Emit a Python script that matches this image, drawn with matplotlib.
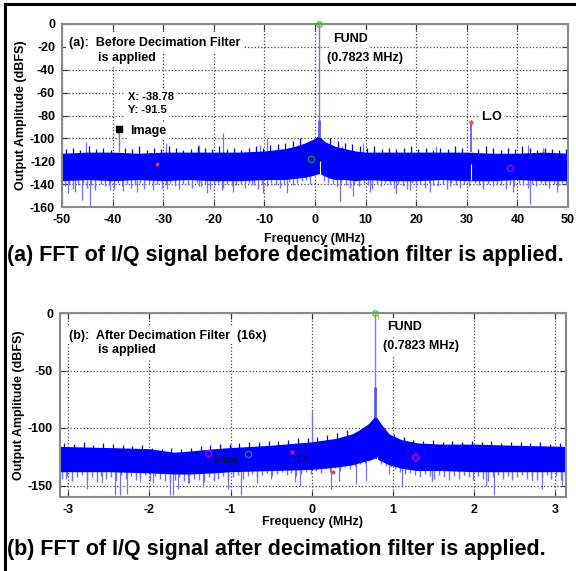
import numpy as np
import matplotlib
matplotlib.use("Agg")
import matplotlib.pyplot as plt
from matplotlib.lines import Line2D

plt.rcParams['font.family'] = ['Liberation Sans', 'DejaVu Sans']
plt.rcParams['axes.unicode_minus'] = False

# ---------------- Panel (a) data ----------------
fa = [-50, -45, -40, -35, -30, -25, -20, -15, -10, -6, -4, -2, -1, 0, 0.5, 0.78, 1, 1.5, 2, 3, 4, 6, 8, 10, 15, 20, 25, 30, 35, 40, 45, 50]
upper_a = [-113, -112, -112, -113, -112, -112, -112, -112, -111, -109, -107, -104, -102, -100, -98, -97, -99, -101, -103, -105, -107, -109, -111, -112, -112, -112, -112, -112, -113, -113, -112, -113]
lower_a = [-137, -136, -137, -136, -137, -136, -137, -137, -136, -136, -135, -134, -133, -132, -131, -131, -131, -132, -133, -135, -136, -136, -137, -136, -137, -137, -136, -137, -137, -136, -137, -137]

# top fuzz (dark) of the noise band
tf_a = [-49.3, -47.8, -46.4, -44.7, -43.2, -41.9, -40.4, -37.6, -36.1, -34.8,
        -33.3, -31.9, -30.5, -28.9, -27.5, -26.1, -24.6, -23.2, -21.8, -20.3,
        -18.9, -17.4, -16.0, -14.6, -13.1, -11.7, -10.2, -8.8, -7.3, -5.9,
        -4.4, -3.0, 3.0, 4.5, 5.9, 7.4, 8.8, 10.3, 11.7, 13.2,
        14.6, 16.1, 17.5, 19.0, 20.4, 21.9, 23.3, 24.8, 26.2, 27.7,
        29.1, 32.3, 33.8, 35.2, 36.7, 38.1, 39.6, 41.0, 42.5, 43.9,
        45.4, 46.8, 48.3, 49.7]
tt_a = [-109, -108, -110, -107, -109, -108, -110, -108, -109, -107,
        -110, -108, -109, -107, -108, -110, -109, -107, -108, -109,
        -107, -109, -108, -110, -108, -107, -108, -106, -105, -104,
        -102, -100, -100, -102, -104, -105, -107, -108, -107, -109,
        -108, -110, -108, -107, -109, -108, -110, -108, -109, -107,
        -108, -109, -107, -108, -110, -108, -109, -107, -108, -110,
        -108, -109, -110, -109]

# bottom fuzz (light) of the noise band
bf_a = [-49.5, -48.6, -47.9, -46.8, -45.9, -45.1, -44.2, -43.4, -42.3, -41.6,
        -40.7, -39.8, -38.9, -38.1, -37.2, -36.4, -35.5, -34.6, -33.8, -32.9,
        -32.0, -31.2, -30.3, -29.5, -28.6, -27.7, -26.9, -26.0, -25.1, -24.3,
        -23.4, -22.5, -21.7, -20.8, -19.9, -19.1, -18.2, -17.3, -16.5, -15.6,
        -14.7, -13.9, -13.0, -12.1, -11.3, -10.4, -9.5, -8.7, -7.8, -6.9,
        -6.1, -5.2, -4.3, -3.5, -2.6, -1.7, -0.9, 1.8, 2.6, 3.5,
        4.4, 5.2, 6.1, 7.0, 7.8, 8.7, 9.6, 10.4, 11.3, 12.2,
        13.0, 13.9, 14.8, 15.6, 16.5, 17.4, 18.2, 19.1, 20.0, 20.8,
        21.7, 22.6, 23.4, 24.3, 25.2, 26.0, 26.9, 27.8, 28.6, 29.5,
        30.4, 31.6, 32.5, 33.3, 34.2, 35.1, 35.9, 36.8, 37.7, 38.5,
        39.4, 40.3, 41.1, 42.0, 42.9, 43.7, 44.6, 45.5, 46.3, 47.2,
        48.1, 48.9, 49.7]
bb_a = [-142, -140, -144, -141, -139, -143, -141, -145, -140, -142,
        -141, -144, -139, -142, -140, -143, -141, -139, -144, -140,
        -142, -140, -143, -141, -139, -142, -144, -140, -141, -143,
        -139, -142, -140, -144, -141, -139, -143, -140, -142, -141,
        -140, -143, -139, -141, -144, -140, -142, -139, -141, -143,
        -140, -138, -141, -139, -137, -136, -134, -137, -139, -140,
        -142, -139, -141, -143, -140, -142, -139, -141, -144, -140,
        -142, -139, -141, -143, -140, -142, -144, -139, -141, -140,
        -143, -139, -141, -142, -140, -144, -139, -141, -143, -140,
        -142, -139, -141, -143, -140, -142, -139, -141, -144, -140,
        -142, -139, -141, -143, -140, -142, -139, -141, -143, -140,
        -142, -139, -141]

# occasional taller spikes
up_fa = [-45.3, -29.4, -23.0, -18.2, -10.9, -9.4, 5.3, 9.5, 16.0, 24.0, 42.0, 45.0]
up_ta = [-103, -104, -106, -95, -106, -100, -107, -104, -108, -107, -106, -108]
dn_fa = [-48.8, -47.4, -46.0, -44.5, -40.5, -38.0, -35.2, -32.0, -29.3, -23.0, -21.4, -18.4, -16.2, -12.5,
         -10.3, -5.5, -1.0, 5.0, 7.5, 10.9, 16.1, 18.8, 22.7, 26.7, 33.2, 35.9, 39.1, 42.5, 47.8]
dn_ba = [-148, -147, -154, -160, -145, -146, -147, -145, -144, -142, -148, -145, -147, -141,
         -148, -148, -140, -155, -150, -147, -148, -145, -147, -142, -144, -141, -147, -157, -147]

fund_f = 0.7823
image_a = (-38.78, -91.5)
lo_a = (30.8, -86)

# ---------------- Panel (b) data ----------------
fb = [-3.1, -2.5, -2.0, -1.7, -1.5, -1.2, -1.0, -0.5, 0, 0.3, 0.5, 0.6, 0.7, 0.75, 0.78, 0.81, 0.86, 0.95, 1.1, 1.3, 1.6, 2.0, 2.5, 3.13]
upper_b = [-116, -117, -118, -121, -120, -118, -117, -115, -112, -109, -105, -101, -96, -92, -89, -92, -97, -105, -110, -113, -114, -114, -115, -116]
lower_b = [-138, -138, -139, -140, -140, -139, -138, -137, -136, -134, -132, -130, -128, -127, -126, -127, -129, -132, -135, -137, -137, -138, -138, -138]

tf_b = [-3.05, -2.93, -2.81, -2.69, -2.57, -2.45, -2.33, -2.21, -2.09, -1.97,
        -1.85, -1.73, -1.61, -1.49, -1.37, -1.25, -1.13, -1.01, -0.89, -0.77,
        -0.65, -0.53, -0.41, -0.29, -0.17, -0.05, 0.07, 0.19, 0.31, 0.43,
        1.01, 1.13, 1.25, 1.37, 1.49, 1.61, 1.73, 1.85, 1.97, 2.09,
        2.21, 2.33, 2.45, 2.57, 2.69, 2.81, 2.93, 3.05]
tt_b = [-113, -114, -112, -115, -113, -114, -115, -116, -115, -117,
        -118, -117, -118, -117, -116, -115, -114, -114, -113, -112,
        -112, -111, -111, -110, -109, -109, -108, -106, -104, -102,
        -105, -108, -110, -111, -110, -112, -111, -112, -111, -112,
        -111, -113, -112, -112, -113, -112, -114, -113]

bf_b = [-3.07, -3.01, -2.95, -2.89, -2.83, -2.77, -2.71, -2.65, -2.59, -2.53,
        -2.47, -2.41, -2.35, -2.29, -2.23, -2.17, -2.11, -2.05, -1.99, -1.93,
        -1.87, -1.81, -1.75, -1.69, -1.63, -1.57, -1.51, -1.45, -1.39, -1.33,
        -1.27, -1.21, -1.15, -1.09, -1.03, -0.97, -0.91, -0.85, -0.79, -0.73,
        -0.67, -0.61, -0.55, -0.49, -0.43, -0.37, -0.31, -0.25, -0.19, -0.13,
        -0.07, -0.01, 0.05, 0.11, 0.17, 0.23, 0.29, 0.35, 0.41, 0.47,
        0.53, 0.59, 0.65, 0.71, 0.85, 0.91, 0.97, 1.03, 1.09, 1.15,
        1.21, 1.27, 1.33, 1.39, 1.45, 1.51, 1.57, 1.63, 1.69, 1.75,
        1.81, 1.87, 1.93, 1.99, 2.05, 2.11, 2.17, 2.23, 2.29, 2.35,
        2.41, 2.47, 2.53, 2.59, 2.65, 2.71, 2.77, 2.83, 2.89, 2.95,
        3.01, 3.07, 3.12]
bb_b = [-144, -142, -146, -143, -141, -145, -143, -147, -142, -144,
        -143, -146, -141, -144, -142, -145, -143, -141, -146, -142,
        -144, -146, -147, -145, -143, -146, -148, -144, -145, -147,
        -143, -146, -144, -142, -145, -143, -141, -144, -142, -140,
        -143, -141, -139, -142, -140, -138, -141, -139, -142, -140,
        -138, -140, -137, -139, -136, -138, -135, -137, -134, -136,
        -133, -131, -130, -129, -131, -133, -134, -136, -138, -140,
        -139, -141, -143, -140, -142, -144, -141, -143, -145, -142,
        -144, -141, -143, -145, -142, -144, -146, -143, -141, -144,
        -142, -145, -143, -141, -144, -142, -145, -143, -141, -144,
        -142, -145, -143]

up_fb = [0.0]
up_tb = [-85]
dn_fb = [-3.03, -2.77, -2.58, -2.42, -2.36, -2.28, -2.11, -1.95, -1.75, -1.71, -1.65, -1.52, -1.34, -1.03, -0.87,
         -0.68, -0.5, -0.21, -0.15, 0.24, 0.34, 0.54, 0.67, 0.95, 1.11, 1.48, 1.87, 2.14, 2.24, 2.46, 2.71, 2.83, 3.08]
dn_bb = [-144, -153, -148, -158, -158, -157, -147, -148, -158, -158, -153, -148, -151, -153, -158,
         -148, -144, -147, -150, -153, -146, -149, -146, -140, -151, -146, -141, -150, -158, -144, -146, -153, -150]

xt_a = [-50, -40, -30, -20, -10, 0, 10, 20, 30, 40, 50]
yt_a = [0, -20, -40, -60, -80, -100, -120, -140, -160]
xt_b = [-3, -2, -1, 0, 1, 2, 3]
yt_b = [0, -50, -100, -150]

DARK = '#0000ff'
LIGHT = '#7070ff'
W, H = 576, 571

fig = plt.figure(figsize=(5.76, 5.71), dpi=100)
fig.patch.set_facecolor('white')

def ax_rect(l, t, r, b):
    return [l / W, 1 - b / H, (r - l) / W, (b - t) / H]

axA = fig.add_axes(ax_rect(62, 24, 568, 207))
axB = fig.add_axes(ax_rect(60, 313, 566, 497))

def style(ax, xt, yt, xlim, ylim):
    ax.set_xlim(*xlim)
    ax.set_ylim(*ylim)
    ax.set_xticks(xt)
    ax.set_yticks(yt)
    ax.grid(True, linestyle=':', color='#444444', linewidth=0.9)
    ax.set_axisbelow(True)
    for s in ax.spines.values():
        s.set_color('#8a8a8a')
        s.set_linewidth(1.5)
    ax.tick_params(direction='in', length=4, width=0.8, color='#333333',
                   top=True, right=True, labelsize=9, pad=5)
    for lab in ax.get_xticklabels() + ax.get_yticklabels():
        lab.set_fontweight('bold')

def draw_band(ax, f, up, lo, tf, tt, bf, bbv, uf, ut, dfq, db):
    lo_b = np.interp(bf, f, lo)
    ax.vlines(bf, bbv, lo_b + 1, color=LIGHT, lw=1.0, zorder=2.1)
    lo_d = np.interp(dfq, f, lo)
    ax.vlines(dfq, db, lo_d + 1, color=LIGHT, lw=0.9, zorder=2.1)
    up_u = np.interp(uf, f, up)
    ax.vlines(uf, up_u - 1, ut, color=LIGHT, lw=0.9, zorder=2.1)
    ax.fill_between(f, lo, up, color=DARK, lw=0, zorder=2.2)
    up_t = np.interp(tf, f, up)
    ax.vlines(tf, up_t - 1, tt, color=DARK, lw=0.9, zorder=2.2)

# ----- Panel (a)
style(axA, xt_a, yt_a, (-50, 50), (-160, 0))
draw_band(axA, fa, upper_a, lower_a, tf_a, tt_a, bf_a, bb_a, up_fa, up_ta, dn_fa, dn_ba)
axA.vlines([image_a[0]], np.interp([image_a[0]], fa, upper_a), [image_a[1]], color=LIGHT, lw=1.0, zorder=2.3)
axA.vlines([lo_a[0]], np.interp([lo_a[0]], fa, upper_a), [lo_a[1]], color='#5a5aff', lw=1.3, zorder=2.3)
axA.vlines([lo_a[0]], -136, -122, color='white', lw=0.8, zorder=2.4)
axA.vlines([fund_f], -99, 0, color='#6e6eff', lw=1.0, zorder=2.3)
axA.vlines([fund_f], -99, -84, color='#5a5aff', lw=2.0, zorder=2.3)
axA.vlines([fund_f + 0.3], -134, -120, color='white', lw=0.8, zorder=2.4)
axA.plot([fund_f], [0], 'o', mfc='none', mec='#33cc33', ms=4, mew=0.9, zorder=4, clip_on=False)
axA.plot([-0.85], [-118], 'o', mfc='none', mec='#009966', ms=4.5, mew=0.9, zorder=4)
axA.plot([38.5], [-126], 'o', mfc='none', mec='#cc00cc', ms=4.5, mew=0.9, zorder=4)
axA.plot([-31.2], [-122], '*', color='#ff3333', ms=2.5, zorder=4)
axA.plot([lo_a[0]], [lo_a[1]], '*', color='#ff5555', ms=3, zorder=4)
axA.plot([image_a[0]], [image_a[1]], 's', color='black', ms=4, zorder=5)

bb = dict(facecolor='white', edgecolor='none', pad=2)
tk = dict(fontsize=9, fontweight='bold', va='center', ha='left', zorder=6)
axA.text(-48.6, -16.6, '(a):  Before Decimation Filter', bbox=bb, **tk)
axA.text(-42.9, -29.7, 'is applied', bbox=bb, **tk)
axA.text(-37.0, -63.5, 'X: -38.78', bbox=bb, fontsize=8, fontweight='bold', va='center', ha='left', zorder=6)
axA.text(-37.0, -75.2, 'Y: -91.5', bbox=bb, fontsize=8, fontweight='bold', va='center', ha='left', zorder=6)
axA.text(-36.6, -93.3, 'Image', bbox=bb, **tk)
axA.text(3.5, -13.1, 'FUND', bbox=bb, **tk)
axA.text(2.3, -29.7, '(0.7823 MHz)', bbox=bb, **tk)
axA.text(32.9, -81.3, 'L.O', bbox=bb, **tk)
axA.set_xlabel('Frequency (MHz)', fontsize=9, fontweight='bold', labelpad=5)
axA.set_ylabel('Output Amplitude (dBFS)', fontsize=9, fontweight='bold', labelpad=2)

# ----- Panel (b)
style(axB, xt_b, yt_b, (-3.1, 3.13), (-160, 0))
draw_band(axB, fb, upper_b, lower_b, tf_b, tt_b, bf_b, bb_b, up_fb, up_tb, dn_fb, dn_bb)
axB.vlines([fund_f], -90, 0, color='#7a7aff', lw=1.0, zorder=2.3)
axB.vlines([fund_f], -90, -64, color='#5a5aff', lw=2.0, zorder=2.3)
axB.vlines([fund_f + 0.02], -142, -125, color='white', lw=0.8, zorder=2.4)
axB.plot([fund_f], [0], 'o', mfc='none', mec='#33cc33', ms=4, mew=0.9, zorder=4, clip_on=False)
axB.plot([0.82], [-3], '|', color='#ffaa33', ms=4, mew=0.8, zorder=4)
axB.plot([-1.28, 1.27], [-122, -125], 'o', mfc='none', mec='#cc00cc', ms=4.5, mew=0.9, zorder=4)
axB.plot([-0.78], [-123], 'o', mfc='none', mec='#009966', ms=4.5, mew=0.9, zorder=4)
axB.plot([-0.24], [-121], 'x', color='#ff3333', ms=2.5, mew=0.8, zorder=4)
axB.plot([0.26], [-138], '*', color='#ff3333', ms=2.5, zorder=4)
axB.text(-1.22, -128.4, 'Image', fontsize=6.5, color='#111111', va='center', ha='left', zorder=6)
axB.text(-0.19, -127, 'L.0', fontsize=6.5, color='#111111', va='center', ha='left', zorder=6)
axB.text(-2.99, -19.6, '(b):  After Decimation Filter  (16x)', bbox=bb, **tk)
axB.text(-2.63, -32.0, 'is applied', bbox=bb, **tk)
axB.text(0.93, -12.1, 'FUND', bbox=bb, **tk)
axB.text(0.88, -29.1, '(0.7823 MHz)', bbox=bb, **tk)
axB.set_xlabel('Frequency (MHz)', fontsize=9, fontweight='bold', labelpad=0)
axB.set_ylabel('Output Amplitude (dBFS)', fontsize=9, fontweight='bold', labelpad=2)

# ----- Captions
fig.text(7 / W, 1 - 255 / H, '(a) FFT of I/Q signal before decimation filter is applied.',
         fontsize=15.5, fontweight='bold', va='center', ha='left')
fig.text(7 / W, 1 - 549 / H, '(b) FFT of I/Q signal after decimation filter is applied.',
         fontsize=15.5, fontweight='bold', va='center', ha='left')

# ----- outer border (top and left)
fig.add_artist(Line2D([5 / W, 1.0], [1 - 4 / H, 1 - 4 / H], color='black', lw=2.2, transform=fig.transFigure))
fig.add_artist(Line2D([5 / W, 5 / W], [0.0, 1 - 4 / H], color='black', lw=2.2, transform=fig.transFigure))

fig.savefig('out.png', dpi=100)
